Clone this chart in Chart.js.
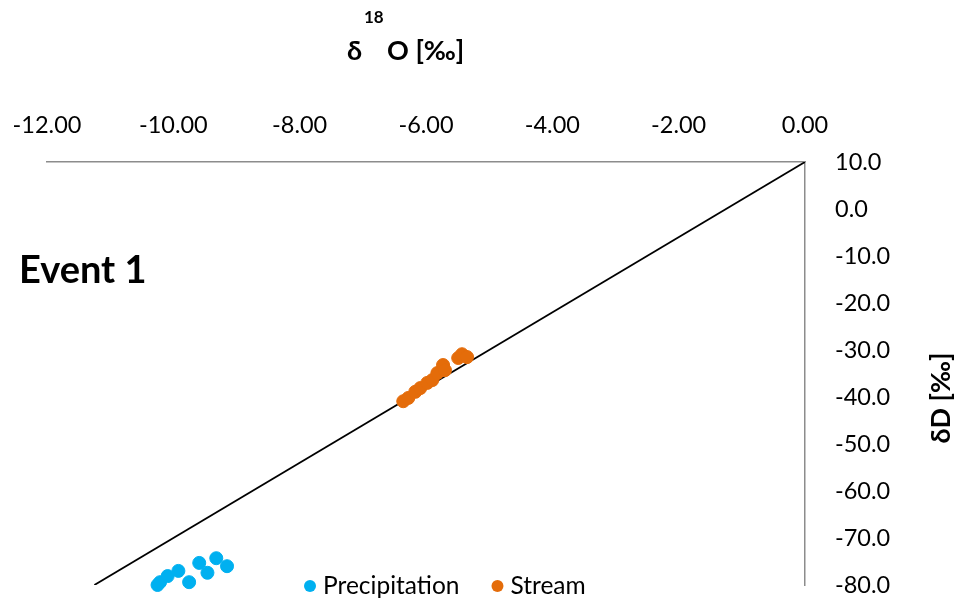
<!DOCTYPE html>
<html lang="en">
<head>
    <meta charset="UTF-8">
    <title>Event 1</title>
    <style>
        html, body { margin: 0; padding: 0; background: #fff; }
        #wrap { width: 960px; height: 604px; }
    </style>
</head>
<body>
    <script src="https://cdn.jsdelivr.net/npm/chart.js@4.4.0/dist/chart.umd.min.js"></script>
    <div id="wrap"><canvas id="chart"></canvas></div>

    <script>
        // δ18O / δD values
        const precipX = [-10.25, -10.21, -10.09, -9.92, -9.75, -9.59, -9.46, -9.32, -9.15];
        const precipY = [-80.0, -79.4, -78.1, -77.0, -79.4, -75.3, -77.4, -74.3, -76.0];
        const streamX = [-6.36, -6.28, -6.17, -6.09, -5.98, -5.90, -5.82, -5.73, -5.70, -5.49, -5.43, -5.35];
        const streamY = [-40.9, -40.2, -38.9, -38.1, -37.0, -36.4, -34.9, -33.2, -34.3, -31.7, -30.9, -31.5];
        // meteoric water line end points
        const lineX = [-11.25, 0];
        const lineY = [-80, 10];

        const seriesNames = ["Precipitation", "Stream"];
        const seriesColors = ["#00B0F0", "#E46C0A"];

        const toPoints = (xs, ys) => xs.map((x, i) => ({ x: x, y: ys[i] }));

        const font = "Lato, 'Open Sans', sans-serif";

        // titles, superscript and legend drawn by hand
        const extras = {
            id: "extras",
            afterDraw(chart) {
                const c = chart.ctx;
                c.save();
                c.fillStyle = "#000";
                c.textBaseline = "middle";

                c.font = "bold 38px " + font;
                c.textAlign = "left";
                c.fillText("Event 1", 19, 271);

                c.font = "bold 27px " + font;
                c.fillText("δ", 347, 51);
                c.fillText("O [‰]", 387, 51);
                c.font = "bold 17px " + font;
                c.fillText("18", 364, 18);

                c.save();
                c.translate(941, 398);
                c.rotate(-Math.PI / 2);
                c.font = "bold 27px " + font;
                c.textAlign = "center";
                c.fillText("δD [‰]", 0, 0);
                c.restore();

                // legend
                c.font = "24.5px " + font;
                c.textAlign = "left";
                let lx = 303;
                const ly = 586;
                for (let i = 0; i < seriesNames.length; i++) {
                    c.fillStyle = seriesColors[i];
                    c.beginPath();
                    c.arc(lx + 7, ly, 6, 0, Math.PI * 2);
                    c.fill();
                    c.fillStyle = "#000";
                    c.fillText(seriesNames[i], lx + 20, ly);
                    lx += 20 + c.measureText(seriesNames[i]).width + 31;
                }
                c.restore();
            }
        };

        new Chart(document.getElementById("chart"), {
            type: "scatter",
            data: {
                datasets: [{
                    label: seriesNames[0],
                    data: toPoints(precipX, precipY),
                    backgroundColor: seriesColors[0],
                    borderColor: seriesColors[0],
                    pointRadius: 6.5,
                    pointHoverRadius: 6.5,
                    clip: false
                }, {
                    label: seriesNames[1],
                    data: toPoints(streamX, streamY),
                    backgroundColor: seriesColors[1],
                    borderColor: seriesColors[1],
                    pointRadius: 6.5,
                    pointHoverRadius: 6.5,
                    clip: false
                }, {
                    label: "GMWL",
                    type: "line",
                    data: toPoints(lineX, lineY),
                    borderColor: "#000",
                    borderWidth: 1.8,
                    pointRadius: 0,
                    fill: false,
                    order: 5
                }]
            },
            options: {
                responsive: true,
                maintainAspectRatio: false,
                animation: false,
                layout: { padding: { left: 47, right: 0, top: 0, bottom: 19 } },
                plugins: {
                    legend: { display: false },
                    tooltip: { enabled: false }
                },
                scales: {
                    x: {
                        type: "linear",
                        position: "top",
                        min: -12,
                        max: 0,
                        grid: { display: false },
                        border: { display: true, color: "#8c8c8c", width: 1.5 },
                        ticks: {
                            stepSize: 2,
                            padding: 14,
                            color: "#000",
                            font: { family: font, size: 23.5 },
                            maxRotation: 0,
                            callback: v => v.toFixed(2)
                        },
                        afterFit: s => {
                            s.height = 162;
                            s.paddingLeft = 0;
                            s.paddingRight = 0;
                        }
                    },
                    y: {
                        type: "linear",
                        position: "right",
                        min: -80,
                        max: 10,
                        grid: { display: false },
                        border: { display: true, color: "#8c8c8c", width: 1.5 },
                        ticks: {
                            stepSize: 10,
                            padding: 22,
                            color: "#000",
                            font: { family: font, size: 23.5 },
                            callback: v => v.toFixed(1)
                        },
                        afterFit: s => {
                            s.width = 155;
                            s.paddingTop = 0;
                            s.paddingBottom = 0;
                        }
                    }
                }
            },
            plugins: [extras]
        });
    </script>
</body>
</html>
